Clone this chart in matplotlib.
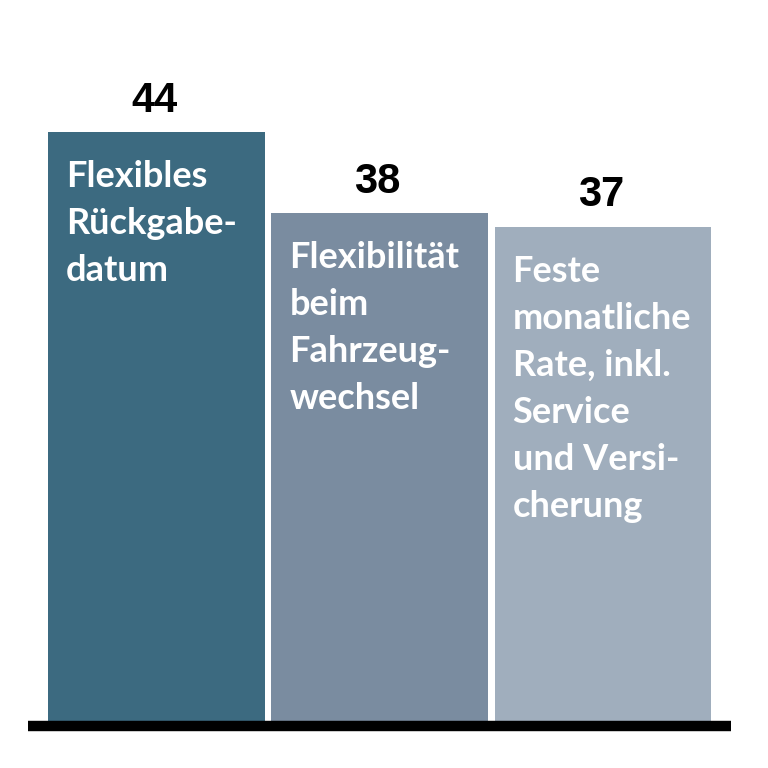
import matplotlib
matplotlib.use("Agg")
import matplotlib.pyplot as plt

categories = ["Flexibles\nRückgabe-\ndatum",
              "Flexibilität\nbeim\nFahrzeug-\nwechsel",
              "Feste\nmonatliche\nRate, inkl.\nService\nund Versi-\ncherung"]
values = [44, 38, 37]
colors = ["#3c6a80", "#7a8ca0", "#a0aebd"]

W, H = 768, 768
fig = plt.figure(figsize=(W / 100, H / 100), dpi=100)
ax = fig.add_axes([28 / W, 42 / H, 703 / W, 726 / H])
ax.set_xlim(-0.575, 2.573)
ax.set_ylim(0, 726 / 13.5)
ax.axis("off")

x = list(range(len(values)))
bw = 0.971
ax.bar(x, values, width=bw, color=colors, zorder=1)
ax.axhline(0, color="black", linewidth=7.5, zorder=3, solid_capstyle="butt",
           clip_on=False)

for xi, v, lab in zip(x, values, categories):
    ax.annotate(str(v), xy=(xi, v), xytext=(-2, 11), textcoords="offset pixels",
                ha="center", va="bottom", fontsize=30, fontweight="bold",
                family="Liberation Sans", color="black")
    ax.annotate(lab, xy=(xi - bw / 2, v), xytext=(18, -28), textcoords="offset pixels",
                ha="left", va="top", fontsize=26, fontweight="bold",
                family="Lato", color="white", linespacing=1.52)

fig.savefig("out.png", dpi=100, facecolor="white")
